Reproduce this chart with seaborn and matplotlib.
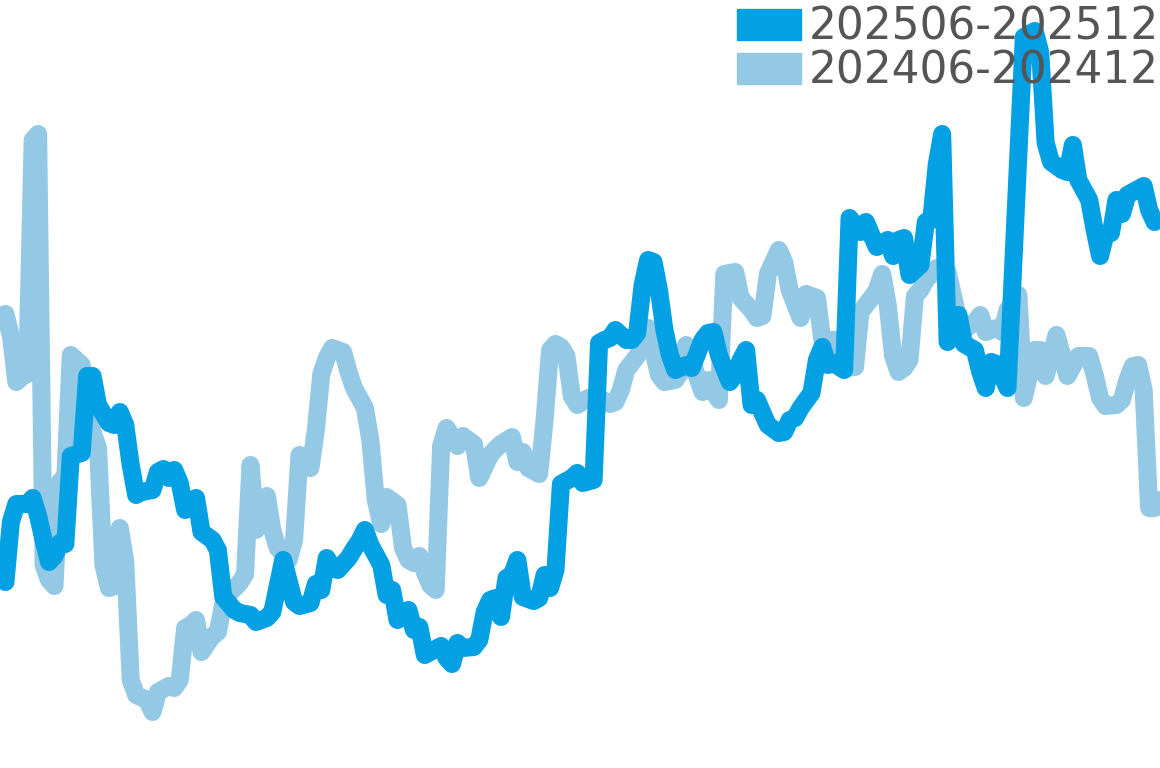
import matplotlib
matplotlib.use("Agg")
import matplotlib.pyplot as plt
from matplotlib.patches import Patch
import pandas as pd
import seaborn as sns

# 两个时间段的日序号与数值
days_2025 = [1, 2, 3, 5, 6, 7, 8, 9, 10, 11, 12, 13, 15, 16, 17, 18, 20, 21, 22, 23,
             24, 25, 26, 28, 29, 30, 31, 32, 33, 34, 35, 36, 37, 39, 40, 41, 43, 44, 46, 47,
             49, 50, 52, 54, 55, 57, 58, 59, 60, 61, 62, 64, 65, 66, 67, 68, 70, 71, 72, 73,
             74, 75, 76, 77, 78, 79, 81, 82, 83, 84, 85, 87, 88, 89, 90, 91, 92, 93, 94, 95,
             96, 98, 99, 100, 101, 102, 103, 105, 106, 107, 109, 110, 111, 112, 113, 115, 116, 117, 118, 119,
             120, 121, 122, 123, 124, 126, 127, 129, 130, 131, 132, 134, 135, 136, 137, 138, 139, 140, 141, 143,
             144, 145, 146, 147, 149, 150, 151, 152, 153, 155, 156, 158, 159, 160, 161, 163, 164, 165, 166, 167,
             169, 170, 171, 172, 173, 174, 176, 177, 179, 180, 181, 182, 183, 185, 188, 190, 191, 192, 193, 195,
             196, 197, 198, 200, 201, 202, 203, 204, 205, 206, 207, 208, 210, 211, 212]
vals_2025 = [18.6, 24.6, 26.4, 26.4, 27.0, 25.2, 22.8, 20.6, 21.2, 22.5, 22.4, 31.2, 31.5, 39.2, 39.2, 36.3, 34.5, 34.3, 35.6, 34.3,
             30.3, 27.3, 27.6, 27.8, 29.6, 29.9, 29.0, 29.8, 28.5, 25.8, 26.3, 27.0, 23.6, 22.8, 21.8, 17.1, 15.8, 15.5, 15.3, 14.6,
             15.0, 15.6, 20.8, 16.6, 16.2, 16.5, 18.4, 17.8, 21.0, 20.0, 19.8, 21.0, 21.9, 22.7, 23.8, 22.3, 20.3, 17.3, 17.8, 14.8,
             15.3, 15.8, 13.8, 14.1, 11.3, 11.6, 12.2, 11.0, 10.4, 12.5, 12.0, 12.1, 12.8, 15.6, 16.8, 17.0, 15.1, 19.0, 19.3, 20.8,
             17.1, 16.7, 17.0, 19.3, 18.0, 19.8, 28.4, 29.0, 29.5, 28.5, 28.8, 42.5, 42.8, 43.0, 43.8, 42.8, 42.8, 43.5, 48.3, 50.8,
             50.6, 47.8, 43.8, 41.3, 39.8, 40.3, 40.0, 42.8, 43.5, 43.6, 41.3, 38.6, 39.3, 40.8, 41.8, 36.3, 36.8, 35.5, 34.3, 33.5,
             33.6, 34.8, 35.0, 36.0, 37.5, 40.8, 42.1, 40.3, 40.5, 39.8, 55.0, 53.6, 54.6, 53.3, 52.1, 52.8, 51.2, 52.8, 53.0, 49.3,
             50.3, 54.6, 54.8, 60.3, 63.4, 42.6, 45.3, 42.4, 41.8, 39.6, 38.0, 40.6, 40.4, 38.0, 73.1, 73.7, 71.6, 62.5, 60.6, 59.8,
             59.6, 62.3, 58.8, 56.8, 53.8, 51.2, 53.4, 53.5, 56.8, 55.4, 57.3, 57.6, 58.2, 55.8, 54.6]

days_2024 = [0, 1, 2, 3, 4, 5, 6, 7, 8, 9, 10, 11, 12, 13, 15, 17, 18, 19, 20, 21,
             22, 23, 24, 25, 27, 28, 29, 31, 32, 33, 34, 35, 36, 37, 39, 40, 41, 42, 44, 45,
             46, 47, 49, 50, 51, 53, 54, 55, 57, 58, 59, 60, 61, 63, 64, 65, 67, 68, 69, 70,
             71, 73, 74, 75, 76, 77, 78, 79, 80, 81, 82, 84, 85, 86, 87, 88, 90, 91, 92, 94,
             95, 96, 97, 99, 100, 101, 102, 103, 104, 105, 106, 108, 110, 112, 113, 114, 115, 117, 118, 119,
             121, 122, 124, 125, 126, 129, 130, 131, 132, 133, 135, 136, 138, 139, 140, 141, 143, 144, 145, 147,
             148, 150, 151, 152, 154, 155, 157, 158, 160, 161, 162, 163, 164, 165, 166, 167, 168, 169, 170, 172,
             174, 176, 177, 179, 180, 181, 183, 184, 185, 187, 188, 190, 191, 192, 194, 195, 196, 198, 200, 201,
             202, 203, 205, 206, 207, 208, 209, 210, 211, 212, 213]
vals_2024 = [44.8, 45.4, 43.2, 38.6, 39.1, 39.4, 62.8, 63.4, 20.3, 18.8, 18.2, 28.6, 29.2, 41.3, 40.3, 33.6, 32.0, 20.3, 18.0, 18.2,
             24.0, 20.6, 8.8, 7.3, 6.8, 5.6, 7.6, 8.2, 8.0, 8.8, 14.0, 14.3, 14.8, 11.6, 13.2, 13.6, 16.4, 17.4, 18.5, 19.4,
             30.3, 23.8, 27.2, 23.8, 22.0, 20.8, 22.8, 31.3, 30.0, 33.8, 39.4, 41.0, 42.0, 41.6, 39.6, 38.0, 36.0, 32.8, 26.8, 24.4,
             27.1, 26.3, 22.0, 20.8, 20.5, 21.2, 19.6, 18.3, 17.8, 32.2, 34.0, 32.2, 33.2, 32.8, 32.4, 29.0, 31.3, 31.9, 32.4, 33.1,
             30.6, 31.6, 30.0, 29.4, 34.8, 41.8, 42.4, 42.1, 41.2, 37.2, 36.3, 37.0, 37.0, 36.4, 36.6, 37.8, 39.8, 41.2, 42.0, 44.0,
             39.3, 38.6, 38.8, 39.6, 42.3, 37.6, 38.8, 37.6, 36.8, 49.4, 49.6, 47.0, 45.8, 45.0, 45.2, 49.4, 51.8, 50.6, 47.8, 45.0,
             47.4, 47.0, 42.8, 42.8, 42.8, 40.0, 40.1, 45.6, 47.0, 47.8, 49.4, 46.3, 41.2, 39.6, 40.0, 40.8, 47.2, 47.8, 48.8, 50.0,
             49.6, 44.8, 43.8, 44.6, 45.3, 43.6, 44.0, 43.6, 45.8, 47.3, 37.0, 41.8, 41.8, 39.2, 43.3, 41.3, 39.2, 41.2, 41.2, 39.3,
             37.0, 36.2, 36.3, 36.8, 38.8, 40.2, 40.3, 37.8, 26.0, 26.0, 26.8]

labels = ["202506-202512", "202406-202412"]
colors = ["#03A0E4", "#93C9E4"]

df_2025 = pd.DataFrame({"day": days_2025, "value": vals_2025})
df_2024 = pd.DataFrame({"day": days_2024, "value": vals_2024})

fig = plt.figure(figsize=(11.6, 7.68), dpi=100)
ax = fig.add_axes([0, 0, 1, 1])

line_kw = dict(linewidth=13, solid_capstyle="round", solid_joinstyle="round", estimator=None)
sns.lineplot(data=df_2024, x="day", y="value", color=colors[1], ax=ax, **line_kw)
sns.lineplot(data=df_2025, x="day", y="value", color=colors[0], ax=ax, **line_kw)

ax.set_xlim(0, 213)
ax.set_ylim(0, 76.8)
ax.axis("off")

handles = [Patch(color=colors[0]), Patch(color=colors[1])]
leg = ax.legend(handles, labels, loc="upper right", bbox_to_anchor=(1.0026, 0.9985),
                frameon=False, fontsize=31.5,
                handlelength=1.46, handleheight=0.73, handletextpad=0.18,
                labelspacing=0.03, borderaxespad=0.0, borderpad=0.1)
for t in leg.get_texts():
    t.set_color("#555555")

fig.savefig("out.png", dpi=100)
